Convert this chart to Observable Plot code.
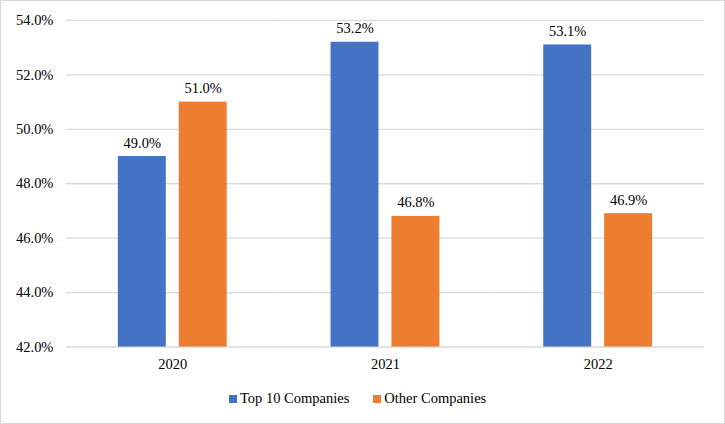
<!DOCTYPE html>
<html>
<head>
<meta charset="utf-8">
<script src="https://cdn.jsdelivr.net/npm/d3@7"></script>
<script src="https://cdn.jsdelivr.net/npm/@observablehq/plot@0.6"></script>
<style>
  html, body { margin: 0; padding: 0; background: #fff; }
  #frame { position: relative; width: 725px; height: 424px; box-sizing: border-box; border: 1px solid #d9d9d9; background: #fff; overflow: hidden; }
  #chart { position: absolute; left: -1px; top: -1px; }
  #legend { position: absolute; top: 389px; left: 228px; font-size: 14.5px; color: #000; display: flex; align-items: center; white-space: nowrap; }
  .sw { display: inline-block; width: 8px; height: 8px; margin-right: 3px; }
  .item { display: flex; align-items: center; margin-right: 24px; }
</style>
</head>
<body>
<div id="frame">
  <div id="chart"></div>
  <div id="legend"></div>
</div>
<script>
const years = ["2020", "2021", "2022"];
const seriesNames = ["Top 10 Companies", "Other Companies"];
const top10 = [49.0, 53.2, 53.1];
const others = [51.0, 46.8, 46.9];
const yTicks = [42, 44, 46, 48, 50, 52, 54];
const colors = ["#4472C4", "#ED7D31"];

const data = [];
years.forEach((y, i) => {
  data.push({year: y, series: seriesNames[0], value: top10[i]});
  data.push({year: y, series: seriesNames[1], value: others[i]});
});

const FONT = "'Liberation Serif', serif";

const chart = Plot.plot({
  width: 725,
  height: 385,
  marginLeft: 66,
  marginRight: 20,
  marginTop: 20,
  marginBottom: 38,
  style: {fontSize: "14.5px", color: "#000", background: "transparent"},
  fx: {domain: years, padding: 0, label: null, tickSize: 0, tickPadding: 12, axis: "bottom"},
  x: {domain: seriesNames, paddingInner: 0.213, paddingOuter: 0.85, axis: null},
  y: {domain: [42, 54], ticks: yTicks, tickFormat: d => d.toFixed(1) + "%", label: null, tickSize: 0, tickPadding: 13},
  color: {domain: seriesNames, range: colors},
  marks: [
    Plot.gridY(yTicks, {stroke: "#d9d9d9", strokeOpacity: 1, strokeWidth: 1.3}),
    Plot.barY(data, {fx: "year", x: "series", y1: 42, y2: "value", fill: "series"}),
    Plot.text(data, {fx: "year", x: "series", y: "value", text: d => d.value.toFixed(1) + "%", lineAnchor: "bottom", dy: -9, fill: "#000", fontSize: 14.5})
  ]
});
chart.style.setProperty("font-family", FONT, "important");
chart.querySelectorAll("text, g").forEach(el => {
  el.setAttribute("font-family", "Liberation Serif");
  el.style.setProperty("font-family", FONT, "important");
});
document.getElementById("chart").appendChild(chart);

const legend = document.getElementById("legend");
legend.style.setProperty("font-family", FONT, "important");
seriesNames.forEach((name, i) => {
  const item = document.createElement("span");
  item.className = "item";
  item.style.setProperty("font-family", FONT, "important");
  const sw = document.createElement("span");
  sw.className = "sw";
  sw.style.background = colors[i];
  item.appendChild(sw);
  item.appendChild(document.createTextNode(name));
  legend.appendChild(item);
});
</script>
</body>
</html>
